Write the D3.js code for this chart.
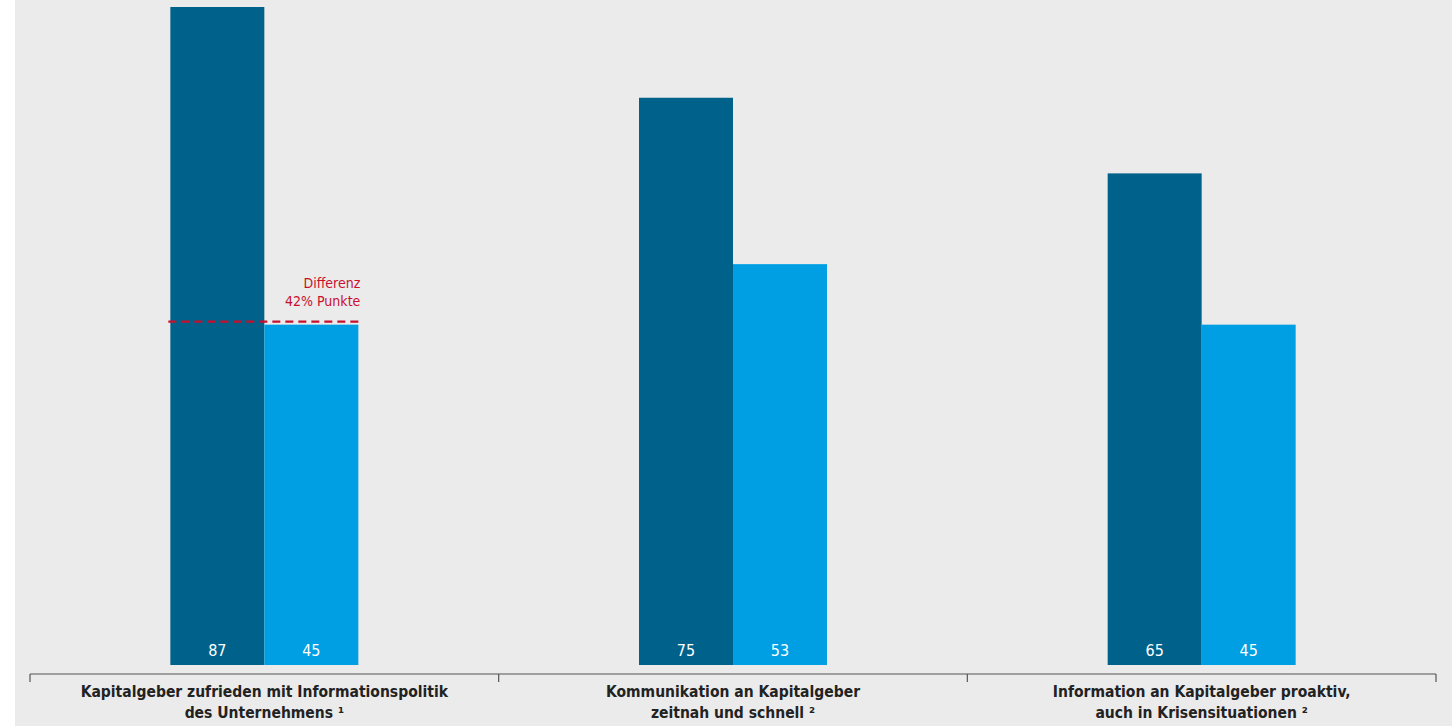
<!DOCTYPE html>
<html>
<head>
<meta charset="utf-8">
<script src="https://cdn.jsdelivr.net/npm/d3@7"></script>
<style>
  html, body { margin: 0; padding: 0; background: #ffffff; }
  svg { display: block; }
  text { font-family: "DejaVu Sans Condensed", "DejaVu Sans", sans-serif; }
</style>
</head>
<body>
<svg id="chart" width="1452" height="726"></svg>
<script>
// Categories (two lines each) and the two compared series
const categories = ["Kapitalgeber zufrieden", "Kommunikation zeitnah", "Information proaktiv"];
const labelLines = [
  ["Kapitalgeber zufrieden mit Informationspolitik", "des Unternehmens ¹"],
  ["Kommunikation an Kapitalgeber", "zeitnah und schnell ²"],
  ["Information an Kapitalgeber proaktiv,", "auch in Krisensituationen ²"]
];
const seriesNames = ["Gruppe A", "Gruppe B"];
const seriesA = [87, 75, 65];
const seriesB = [45, 53, 45];
const seriesColors = ["#00618b", "#009fe3"];
const diffText = ["Differenz", "42% Punkte"];

const svg = d3.select("#chart");
const W = 1452, H = 726;

// grey panel
svg.append("rect").attr("x", 15).attr("y", 0).attr("width", W - 15).attr("height", H).attr("fill", "#ebebeb");

const baseY = 665;
const y = d3.scaleLinear().domain([0, 87]).range([baseY, 7]);

const x0 = d3.scaleBand().domain(categories).range([30, 1436]).padding(0);
const bw = x0.bandwidth();
const x1 = d3.scaleBand().domain(seriesNames).range([bw / 2 - 94, bw / 2 + 94]).padding(0);

const rows = categories.map((c, i) => ({ cat: c, vals: [seriesA[i], seriesB[i]] }));

const groups = svg.selectAll("g.grp").data(rows).join("g")
  .attr("class", "grp")
  .attr("transform", d => `translate(${x0(d.cat)},0)`);

groups.selectAll("rect").data(d => d.vals.map((v, j) => ({ v, s: seriesNames[j], j })))
  .join("rect")
  .attr("x", d => x1(d.s))
  .attr("y", d => y(d.v))
  .attr("width", x1.bandwidth())
  .attr("height", d => baseY - y(d.v))
  .attr("fill", d => seriesColors[d.j]);

groups.selectAll("text.val").data(d => d.vals.map((v, j) => ({ v, s: seriesNames[j] })))
  .join("text")
  .attr("class", "val")
  .attr("x", d => x1(d.s) + x1.bandwidth() / 2)
  .attr("y", 656)
  .attr("text-anchor", "middle")
  .attr("fill", "#ffffff")
  .attr("font-size", 16)
  .text(d => d.v);

// Difference marker on the first group
const g0 = x0(categories[0]);
const diffY = y(seriesB[0]) - 3;
svg.append("line")
  .attr("x1", g0 + x1(seriesNames[0]) - 2)
  .attr("x2", g0 + x1(seriesNames[1]) + x1.bandwidth())
  .attr("y1", diffY).attr("y2", diffY)
  .attr("stroke", "#c8102e").attr("stroke-width", 2.4)
  .attr("stroke-dasharray", "8,5");
svg.append("text")
  .attr("x", g0 + x1(seriesNames[1]) + x1.bandwidth() + 2)
  .attr("text-anchor", "end")
  .attr("fill", "#c8102e")
  .attr("font-size", 14)
  .selectAll("tspan").data(diffText).join("tspan")
  .attr("x", g0 + x1(seriesNames[1]) + x1.bandwidth() + 2)
  .attr("y", (d, i) => 288 + i * 18)
  .text(d => d);

// Category axis with boundary ticks
svg.append("line").attr("x1", 30).attr("x2", 1436).attr("y1", 674).attr("y2", 674)
  .attr("stroke", "#555555").attr("stroke-width", 1.2);
const bounds = categories.map(c => x0(c)).concat([x0(categories[2]) + bw]);
svg.selectAll("line.tick").data(bounds).join("line")
  .attr("class", "tick")
  .attr("x1", d => d).attr("x2", d => d)
  .attr("y1", 674).attr("y2", 682)
  .attr("stroke", "#555555").attr("stroke-width", 1.2);

svg.selectAll("text.cat").data(categories).join("text")
  .attr("class", "cat")
  .attr("text-anchor", "middle")
  .attr("fill", "#222222")
  .attr("font-size", 15.5)
  .attr("font-weight", "bold")
  .each(function (c, i) {
    d3.select(this).selectAll("tspan").data(labelLines[i]).join("tspan")
      .attr("x", x0(c) + bw / 2)
      .attr("y", (d, k) => 697 + k * 21)
      .text(d => d);
  });
</script>
</body>
</html>
